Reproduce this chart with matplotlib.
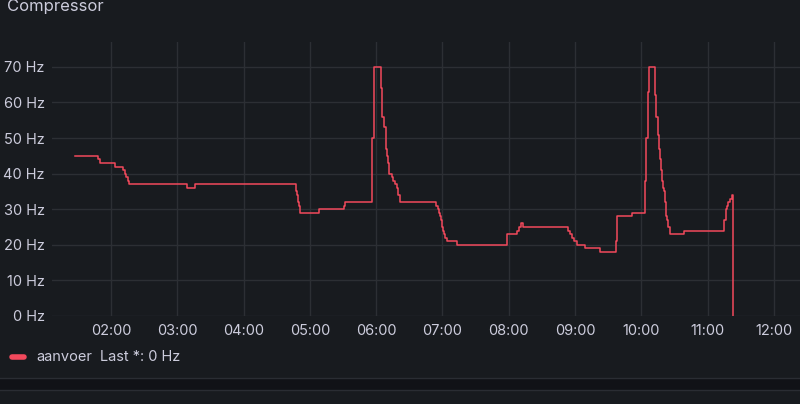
import matplotlib
matplotlib.use("Agg")
import matplotlib.pyplot as plt
from matplotlib.lines import Line2D
from matplotlib.patches import Rectangle

# compressor frequency, hours since midnight -> Hz (step after)
hours = [1.457, 1.808, 1.834, 2.060, 2.186, 2.216, 2.231, 2.252, 2.267,
         3.142, 3.271, 4.786, 4.795, 4.805, 4.816, 4.826, 4.836, 4.846, 4.855,
         5.142, 5.514, 5.534, 5.932, 5.971,
         6.068, 6.083, 6.092, 6.122, 6.143, 6.152, 6.167, 6.182, 6.197,
         6.234, 6.258, 6.288, 6.309, 6.329, 6.359,
         6.902, 6.925, 6.940, 6.955, 6.970, 6.985, 7.000, 7.015, 7.030,
         7.045, 7.072, 7.214, 7.977, 8.119, 8.158, 8.190, 8.207,
         8.897, 8.923, 8.953, 8.983, 9.033, 9.149, 9.376, 9.612, 9.636,
         9.854, 10.050, 10.065, 10.095, 10.110,
         10.200, 10.215, 10.246, 10.261, 10.276, 10.291, 10.306, 10.321,
         10.341, 10.356, 10.371, 10.386, 10.401, 10.436, 10.647,
         11.250, 11.271, 11.286, 11.301, 11.336, 11.362, 11.386]
hz = [45, 44, 43, 42, 41, 40, 39, 38, 37,
      36, 37, 36, 35, 34, 33, 32, 31, 30, 29,
      30, 31, 32, 50, 70,
      64, 61, 56, 53, 50, 47, 45, 43, 40,
      39, 38, 37, 36, 34, 32,
      31, 30, 29, 28, 27, 26, 25, 24, 23,
      22, 21, 20, 23, 24, 25, 26, 25,
      24, 23, 22, 21, 20, 19, 18, 21, 28,
      29, 38, 50, 63, 70,
      62, 56, 51, 47, 44, 41, 38, 36,
      35, 32, 28, 27, 25, 23, 24,
      27, 30, 31, 32, 33, 34, 0]

xticks = [2, 3, 4, 5, 6, 7, 8, 9, 10, 11, 12]
xlabels = ["02:00", "03:00", "04:00", "05:00", "06:00", "07:00",
           "08:00", "09:00", "10:00", "11:00", "12:00"]
yticks = [0, 10, 20, 30, 40, 50, 60, 70]

bg = "#181b1f"
txt = "#ccccdc"
red = "#f2495c"
grid = "#2c2f34"
fs = 10.5

plt.rcParams["font.family"] = ["Inter", "DejaVu Sans"]

fig = plt.figure(figsize=(8, 4.04), dpi=100, facecolor=bg)
ax = fig.add_axes([0.0646, 0.218, 0.9354, 0.678])
ax.set_facecolor(bg)

ax.step(hours, hz, where="post", color=red, lw=1.1)

ax.set_xlim(1.1056, 12.392)
ax.set_ylim(0, 77)
ax.set_xticks(xticks)
ax.set_xticklabels(xlabels)
ax.set_yticks(yticks)
ax.set_yticklabels([f"{v} Hz" for v in yticks])
ax.grid(True, color=grid, lw=1)
ax.set_axisbelow(True)
for s in ax.spines.values():
    s.set_visible(False)
ax.tick_params(length=0, colors=txt, labelsize=fs)
ax.tick_params(axis="y", pad=5)
ax.tick_params(axis="x", pad=6)

# panel title
fig.text(7 / 800, 1 - 11.5 / 404, "Compressor", color=txt, fontsize=12,
         va="baseline", ha="left")

# legend
fig.add_artist(Line2D([12 / 800, 24 / 800], [1 - 357 / 404, 1 - 357 / 404],
                      color=red, lw=4, solid_capstyle="round"))
fig.text(36 / 800, 1 - 357 / 404, "aanvoer", color=txt, fontsize=fs,
         va="center", ha="left")
fig.text(100 / 800, 1 - 357 / 404, "Last *: 0 Hz", color=txt, fontsize=fs,
         va="center", ha="left")

# gap to the next panel
fig.patches.append(Rectangle((0, 1 - 390 / 404), 1, 12 / 404,
                             transform=fig.transFigure, facecolor="#111217",
                             edgecolor="none"))
fig.add_artist(Line2D([0, 1], [1 - 378 / 404] * 2, color="#2a2d33", lw=1))
fig.add_artist(Line2D([0, 1], [1 - 390 / 404] * 2, color="#2a2d33", lw=1))

fig.savefig("out.png", dpi=100, facecolor=bg)
